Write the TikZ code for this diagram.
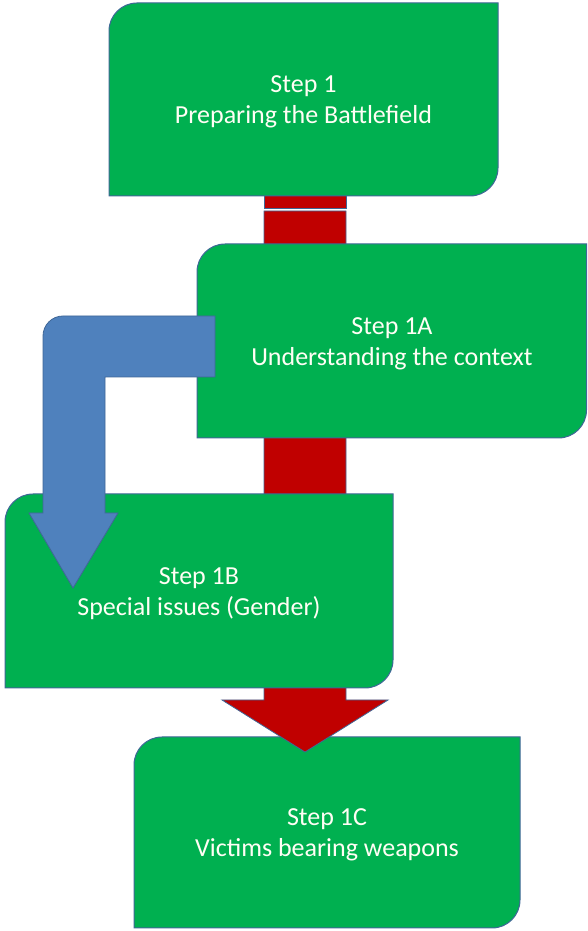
\documentclass[tikz,border=0pt]{standalone}
\usepackage{fontspec}
\setmainfont{Carlito}
\usetikzlibrary{positioning}
\definecolor{boxgreen}{HTML}{00B050}
\definecolor{edgeblue}{HTML}{3F6797}
\definecolor{arrowred}{HTML}{C00000}
\definecolor{arrowblue}{HTML}{4F81BD}
\tikzset{
  steptext/.style = {align=center, inner sep=0pt, text=white!96!yellow,
    font=\fontsize{26}{31}\selectfont},
  stepfill/.style = {fill=boxgreen, draw=edgeblue, line width=1pt},
  redarrow/.style = {fill=arrowred, draw=edgeblue, line width=0.8pt},
  bluearrow/.style = {fill=arrowblue, draw=edgeblue, line width=0.8pt}
}
% green box, round corners top left and bottom right: left, bottom, right, top
\newcommand{\stepshape}[4]{%
  \path[stepfill] (#1,#2) -- (#3-28,#2) arc (270:360:28) -- (#3,#4)
    -- (#1+28,#4) arc (90:180:28) -- cycle;
}

\begin{document}
\begin{tikzpicture}[x=1pt, y=1pt]
\useasboundingbox (0,0) rectangle (587,931);

% last step, under the red arrow
\stepshape{134}{3}{520}{194}
\node [steptext] (s1c) at (327,96) {Step 1C\\Victims bearing weapons};

% red arrow down the middle
\path[redarrow] (264,720) -- (346,720) -- (346,231) -- (388,231)
  -- (305,179) -- (222,231) -- (264,231) -- cycle;
\path[redarrow] (264,736) rectangle (346,723);

\stepshape{109}{735}{498}{928}
\node [steptext] (s1) at (303.5,829) {Step 1\\Preparing the Battlefield};

\stepshape{197}{493}{586.5}{687}
\node [steptext] (s1a) at (392,587.5) {Step 1A\\Understanding the context};

\stepshape{5}{243}{393}{437}
\node [steptext] (s1b) at (199,337.5) {Step 1B\\Special issues (Gender)};

% bent blue arrow from 1A to 1B
\path[bluearrow] (215,615) -- (215,554) -- (105,554) -- (105,418)
  -- (118,418) -- (73,343) -- (29,418) -- (43,418) -- (43,595)
  arc (180:90:20) -- cycle;
\end{tikzpicture}
\end{document}
